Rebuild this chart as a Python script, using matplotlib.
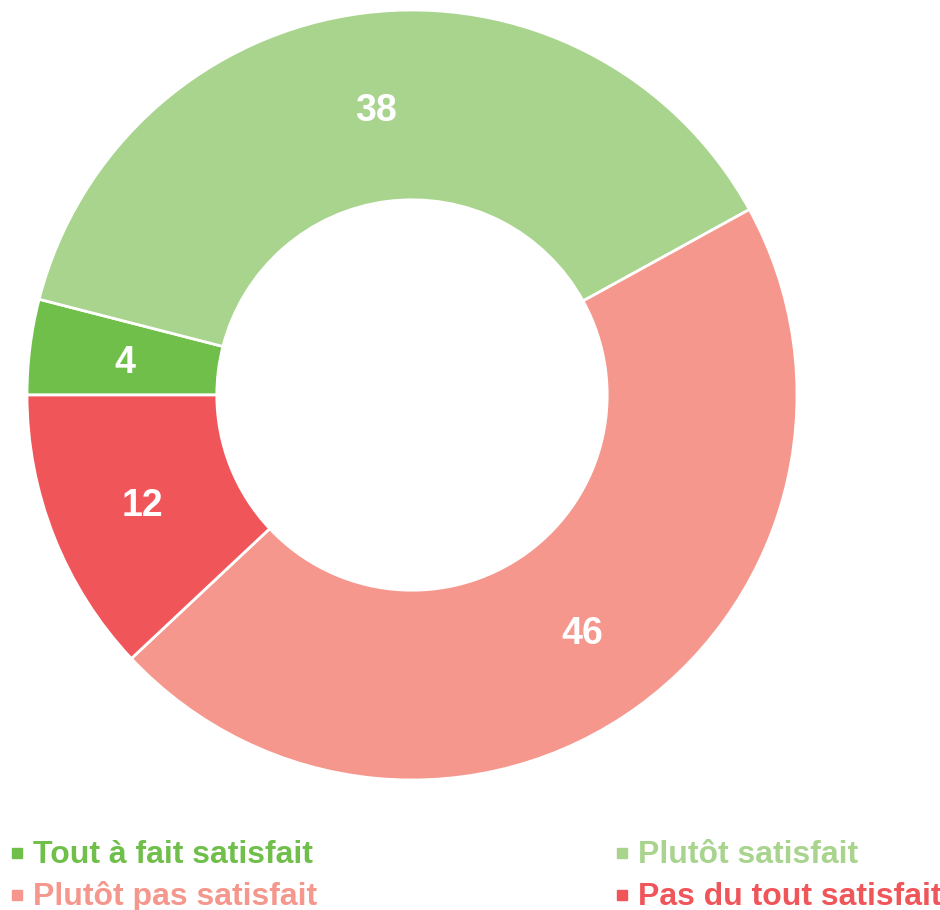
import matplotlib
matplotlib.use("Agg")
import matplotlib.pyplot as plt
from matplotlib.lines import Line2D

plt.rcParams['font.family'] = ['Liberation Sans', 'DejaVu Sans']

categories = ["Tout à fait satisfait", "Plutôt satisfait", "Plutôt pas satisfait", "Pas du tout satisfait"]
values = [4, 38, 46, 12]
colors = ["#70bf4a", "#a9d48e", "#f5978c", "#f0555a"]

W, H = 940, 910
fig = plt.figure(figsize=(W / 100, H / 100), dpi=100)

cx, cy, R = 412, 395, 385
ax = fig.add_axes([(cx - R) / W, (H - cy - R) / H, 2 * R / W, 2 * R / H])
ax.set_aspect('equal')

total = sum(values)
wedges, texts, autotexts = ax.pie(
    values, colors=colors, startangle=180, counterclock=False, radius=1.0,
    wedgeprops=dict(width=0.493, edgecolor='white', linewidth=2),
    autopct=lambda p: f"{round(p * total / 100)}", pctdistance=0.753,
    textprops=dict(color='white', fontsize=27, fontweight='bold'))
for t in autotexts:
    t.set_va('center_baseline')
ax.set_xlim(-1, 1)
ax.set_ylim(-1, 1)
ax.axis('off')

# Legend (manual two-column layout)
marker_x = [17, 622]
text_x = [33, 638]
rows_y = [863, 905]
for i, (cat, col) in enumerate(zip(categories, colors)):
    c = i % 2
    r = i // 2
    mcy = rows_y[r] - 10
    fig.add_artist(Line2D([marker_x[c] / W], [1 - mcy / H], marker='s', markersize=7.8,
                          color=col, linestyle='none', transform=fig.transFigure))
    fig.text(text_x[c] / W, 1 - rows_y[r] / H, cat, color=col, fontsize=23,
             fontweight='bold', ha='left', va='baseline')

fig.savefig("out.png", dpi=100)
